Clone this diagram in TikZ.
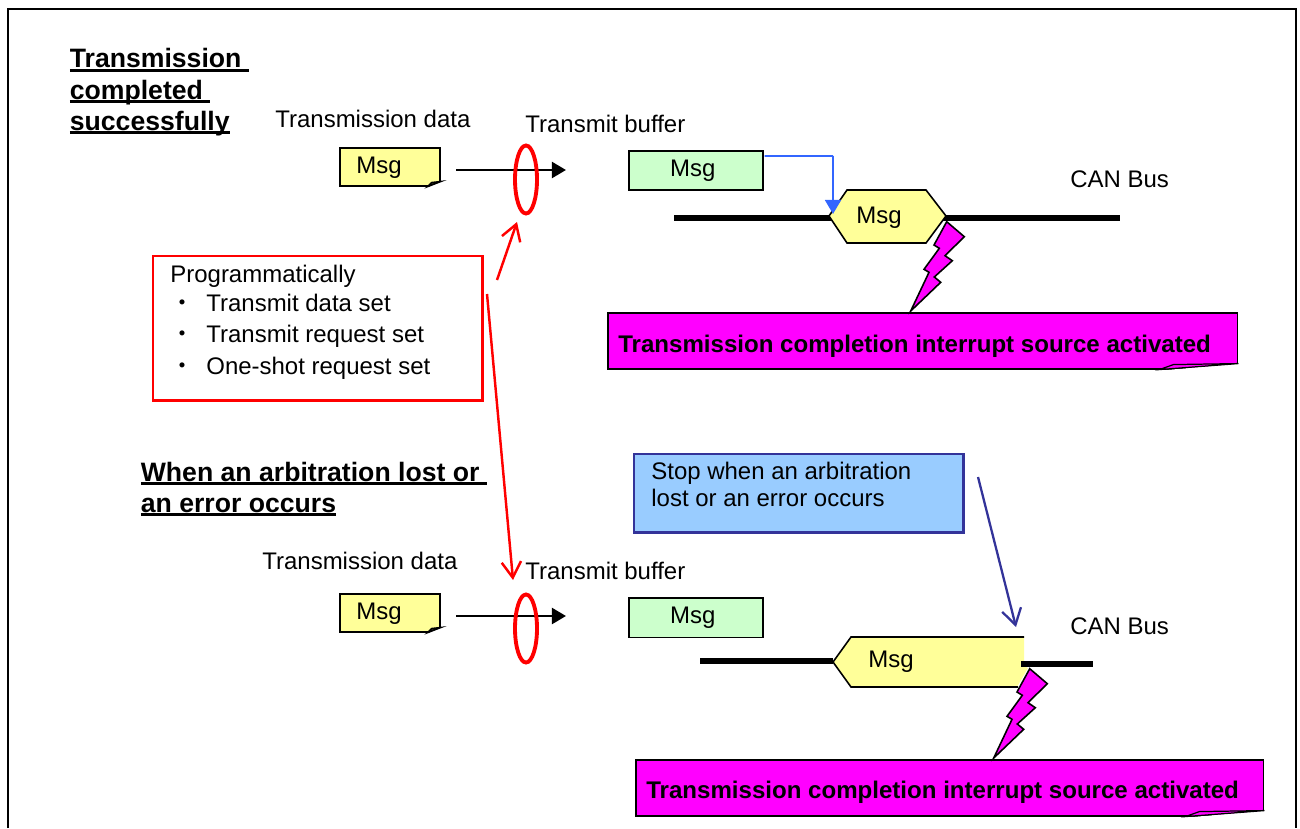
\documentclass[tikz,border=0pt]{standalone}
\usepackage{fontspec}
\setmainfont{Liberation Sans}
\newfontfamily\cjkfont{Noto Sans CJK JP}
\usetikzlibrary{arrows.meta, calc}
\definecolor{notefill}{HTML}{FFFF99}
\definecolor{bufferfill}{HTML}{CCFFCC}
\definecolor{stopfill}{HTML}{99CCFF}
\definecolor{stopline}{HTML}{333399}
\definecolor{txline}{HTML}{3366FF}
\definecolor{alertfill}{HTML}{FF00FF}
\newcommand{\headline}[1]{\setbox0\hbox{#1}\rlap{\rule[-2.2pt]{\wd0}{1.6pt}}\box0}
\newcommand{\boltpath}[1]{(#1) -- ++(17.6,15) -- ++(-19.3,19) -- ++(7.3,5) -- ++(-18,16.3) -- ++(6.4,5.3) -- ++(-30,28.7) -- ++(18.3,-38.7) -- ++(-5,-3) -- ++(15.3,-21) -- ++(-5.3,-3.3) -- cycle}
\tikzset{
    my-text/.style={
        anchor=base west, inner sep=0pt, font=\fontsize{13.65}{16}\selectfont
    },
    my-head/.style={
        my-text, font=\fontsize{15.15}{18}\selectfont\bfseries
    },
    my-alarm/.style={
        my-text, font=\fontsize{13.7}{16}\selectfont\bfseries
    },
    my-box/.style={
        draw, line width=.9pt, inner sep=0pt, anchor=north west
    },
    my-note/.style={
        my-box, fill=notefill, minimum width=2cm, minimum height=.76cm
    },
    my-buffer/.style={
        my-box, fill=bufferfill, minimum width=2.68cm, minimum height=.79cm
    },
    my-alert/.style={
        my-box, fill=alertfill, minimum width=12.6cm, minimum height=1.12cm
    },
    my-bus/.style={
        line width=3.1pt
    },
    my-send/.style={
        line width=1.6pt, -{Triangle[length=8pt, width=9pt]}
    },
    my-ring/.style={
        draw=red, line width=2.2pt
    },
    my-hint/.style={
        draw=red, line width=1.4pt, -{Straight Barb[length=9pt, width=11pt]}
    },
    my-bolt/.style={
        draw, fill=alertfill, line width=.9pt, line join=miter
    },
    my-frame/.style={
        draw, line width=1.1pt
    },
}

\begin{document}
\begin{tikzpicture}[x=.02cm, y=-.02cm]
        \useasboundingbox (0,0) rectangle (1300,828);

        % FRAME
        \coordinate (FRAMEBL) at (8,828);
        \coordinate (FRAMETL) at (8,9);
        \coordinate (FRAMETR) at (1296,9);
        \coordinate (FRAMEBR) at (1296,828);
        \draw[my-frame] (FRAMEBL) -- (FRAMETL) -- (FRAMETR) -- (FRAMEBR);

        % HEADINGS
        \node[my-head] (HEAD1A) at (69.5,68)  {\headline{Transmission\ }};
        \node[my-head] (HEAD1B) at (69.5,99)  {\headline{completed\ }};
        \node[my-head] (HEAD1C) at (69.5,130) {\headline{successfully}};
        \node[my-head] (HEAD2A) at (140.5,481) {\headline{When an arbitration lost or\ }};
        \node[my-head] (HEAD2B) at (140.5,512) {\headline{an error occurs}};

        % UPPER CASE - DATA AND BUFFER
        \node[my-text] (DATA1) at (275,127) {Transmission data};
        \node[my-text] (BUF1)  at (525,132.5) {Transmit buffer};
        \node[my-text] (CAN1)  at (1070,187) {CAN Bus};
        \node[my-note]   (NOTE1)   at (339,147) {};
        \node[my-text, anchor=base] (NOTE1TXT) at ($(NOTE1.west) + (40,7)$) {Msg};
        \node[my-buffer] (GREEN1)  at (628,150) {};
        \node[my-text, anchor=base] (GREEN1TXT) at ($(GREEN1.center) + (-3,5.5)$) {Msg};
        \fill[white] ($(NOTE1.south east) + (-13.5,1)$) -- ($(NOTE1.south east) + (1,1)$) -- ($(NOTE1.south east) + (1,-5)$) -- cycle;
        \draw[fill=notefill!60!black, line width=.9pt] ($(NOTE1.south east) + (-13,0)$) -- ($(NOTE1.south east) + (-9,-4)$) -- ($(NOTE1.south east) + (0,-5)$) -- cycle;

        % UPPER CASE - SEND ARROW
        \coordinate (SEND1A) at (456,170);
        \coordinate (SEND1B) at (566,170);
        \draw[my-send] (SEND1A) -- (SEND1B);
        \draw[my-ring] (526,179.5) ellipse (11 and 34);
        \coordinate (RING1) at (517,222);

        % UPPER CASE - BUS AND MESSAGE
        \coordinate (BUS1A) at (674,218);
        \coordinate (BUS1B) at (1120,218);
        \draw[my-bus] (BUS1A) -- (BUS1B);
        \draw[fill=notefill, line width=.9pt] (829,216) -- (847,190) -- (926,190) -- (946,216) -- (926,243) -- (847,243) -- cycle;
        \node[my-text] (HEX1TXT) at (856,223.5) {Msg};
        \coordinate (GREEN1OUT) at ($(GREEN1.east) + (1,-14.5)$);
        \coordinate (TXBEND) at (833,156);
        \coordinate (TXEND) at (833,214);
        \draw[txline, line width=.9pt] (GREEN1OUT) -- (TXBEND);
        \draw[txline, line width=1.4pt, -{Triangle[length=8pt, width=9pt]}] (TXBEND) -- (TXEND);

        % UPPER CASE - INTERRUPT
        \node[my-alert] (ALERT1) at (607,312) {};
        \fill[white] ($(ALERT1.south east) + (-79,1)$) -- ($(ALERT1.south east) + (1,1)$) -- ($(ALERT1.south east) + (1,-6)$) -- cycle;
        \draw[fill=alertfill, line width=.7pt] ($(ALERT1.south east) + (-79,0)$) -- ($(ALERT1.south east) + (-65,-5)$) -- ($(ALERT1.south east) + (0,-6)$) -- cycle;
        \node[my-alarm] (ALERT1TXT) at (618,352) {Transmission completion interrupt source activated};
        \coordinate (BOLT1) at (946.7,221.7);
        \draw[my-bolt] \boltpath{BOLT1};

        % PROGRAM BOX
        \node[my-box, draw=red, line width=1.6pt, minimum width=6.6cm, minimum height=2.9cm] (PROG) at (151.5,254.5) {};
        \node[my-text] (PROG0) at (170,282) {Programmatically};
        \node[my-text] (DOT1) at (170,311) {\cjkfont ・};
        \node[my-text] (PROG1) at (206,311) {Transmit data set};
        \node[my-text] (DOT2) at (170,342) {\cjkfont ・};
        \node[my-text] (PROG2) at (206,342) {Transmit request set};
        \node[my-text] (DOT3) at (170,374) {\cjkfont ・};
        \node[my-text] (PROG3) at (206,374) {One-shot request set};

        % LOWER CASE - DATA AND BUFFER
        \node[my-text] (DATA2) at (262,569) {Transmission data};
        \node[my-text] (BUF2)  at (525,579) {Transmit buffer};
        \node[my-text] (CAN2)  at (1070,634) {CAN Bus};
        \node[my-note]   (NOTE2)   at (339,593) {};
        \node[my-text, anchor=base] (NOTE2TXT) at ($(NOTE2.west) + (40,7)$) {Msg};
        \node[my-buffer] (GREEN2)  at (628,597) {};
        \node[my-text, anchor=base] (GREEN2TXT) at ($(GREEN2.center) + (-3,5.5)$) {Msg};
        \fill[white] ($(NOTE2.south east) + (-13.5,1)$) -- ($(NOTE2.south east) + (1,1)$) -- ($(NOTE2.south east) + (1,-5)$) -- cycle;
        \draw[fill=notefill!60!black, line width=.9pt] ($(NOTE2.south east) + (-13,0)$) -- ($(NOTE2.south east) + (-9,-4)$) -- ($(NOTE2.south east) + (0,-5)$) -- cycle;

        % LOWER CASE - SEND ARROW
        \coordinate (SEND2A) at (456,616);
        \coordinate (SEND2B) at (566,616);
        \draw[my-send] (SEND2A) -- (SEND2B);
        \draw[my-ring] (526,628.5) ellipse (11 and 34);
        \coordinate (RING2) at (513,580);

        % LOWER CASE - BUS AND MESSAGE
        \coordinate (BUS2A) at (700,661);
        \coordinate (BUS2B) at (833,661);
        \coordinate (BUS2C) at (1021,664);
        \coordinate (BUS2D) at (1093,664);
        \fill[notefill] (851,637) -- (1024,637) -- (1024,666) -- (1028,668) -- (1017,687) -- (851,687) -- (833,662) -- cycle;
        \draw[line width=.9pt] (1024,637) -- (851,637) -- (833,662) -- (851,687) -- (1018,687);
        \draw[my-bus] (BUS2A) -- (BUS2B);
        \draw[my-bus] (BUS2C) -- (BUS2D);
        \node[my-text] (HEX2TXT) at (868,667.5) {Msg};

        % LOWER CASE - INTERRUPT
        \node[my-alert, minimum width=12.56cm] (ALERT2) at (635,759) {};
        \fill[white] ($(ALERT2.south east) + (-79,1)$) -- ($(ALERT2.south east) + (1,1)$) -- ($(ALERT2.south east) + (1,-6)$) -- cycle;
        \draw[fill=alertfill, line width=.7pt] ($(ALERT2.south east) + (-79,0)$) -- ($(ALERT2.south east) + (-65,-5)$) -- ($(ALERT2.south east) + (0,-6)$) -- cycle;
        \node[my-alarm] (ALERT2TXT) at (646,798) {Transmission completion interrupt source activated};
        \coordinate (BOLT2) at (1029.7,668.7);
        \draw[my-bolt] \boltpath{BOLT2};

        % STOP BOX
        \node[my-box, draw=stopline, line width=1.3pt, fill=stopfill, minimum width=6.6cm, minimum height=1.58cm] (STOP) at (632.5,452.5) {};
        \node[my-text] (STOP1) at (651,479) {Stop when an arbitration};
        \node[my-text] (STOP2) at (651,506) {lost or an error occurs};
        \coordinate (STOPOUT) at (978,477);
        \coordinate (STOPEND) at (1016,627);
        \draw[draw=stopline, line width=1.3pt, -{Straight Barb[length=9pt, width=11pt]}] (STOPOUT) -- (STOPEND);

        % HINT ARROWS
        \coordinate (HINT1) at (497,280);
        \coordinate (HINT2) at (487,294);
        \draw[my-hint] (HINT1) -- (RING1);
        \draw[my-hint] (HINT2) -- (RING2);

\end{tikzpicture}
\end{document}
